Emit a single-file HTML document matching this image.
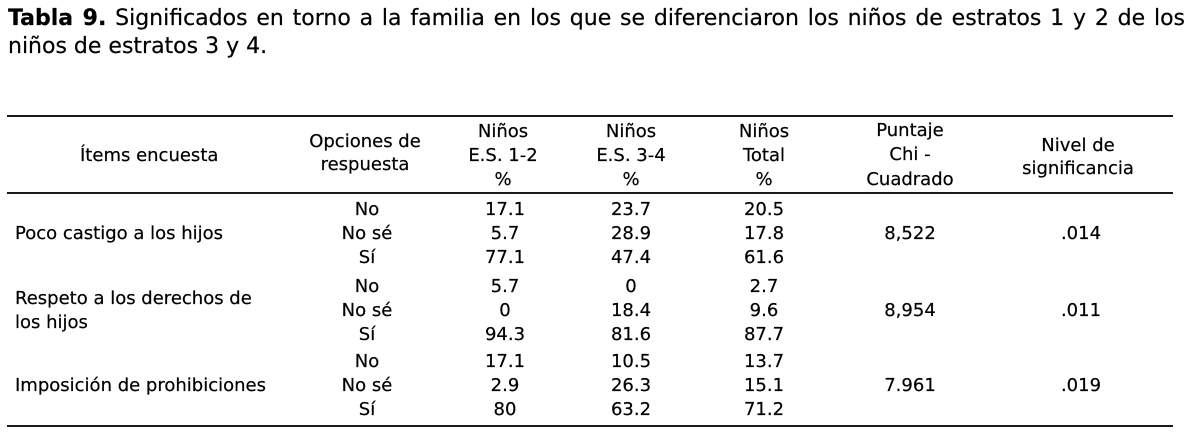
<!DOCTYPE html>
<html>
<head>
<meta charset="utf-8">
<style>
  html, body { margin:0; padding:0; background:#fff; }
  body { width:1194px; height:439px; position:relative; overflow:hidden;
         font-family:"DejaVu Sans","Liberation Sans",sans-serif; color:#000;
         -webkit-text-stroke:0.2px #000; }
  .ttl { position:absolute; left:8px; width:1177px; font-size:22px; line-height:28px; white-space:nowrap; }
  .j { text-align:justify; text-align-last:justify; white-space:normal; }
  .t { position:absolute; font-size:18px; line-height:24px; white-space:nowrap; }
  .c { width:220px; text-align:center; }
  .rule { position:absolute; left:7px; width:1166px; height:2px; background:#1a1a1a; }
</style>
</head>
<body>
  <div class="ttl j" style="top:5px;"><b>Tabla 9.</b> Significados en torno a la familia en los que se diferenciaron los niños de estratos 1 y 2 de los</div>
  <div class="ttl" style="top:33px;">niños de estratos 3 y 4.</div>

  <div class="rule" style="top:115px;"></div>
  <div class="rule" style="top:192px;"></div>
  <div class="rule" style="top:425px;"></div>

  <!-- header -->
  <div class="t" style="left:80px; top:144px;">Ítems encuesta</div>
  <div class="t c" style="left:255px; top:130px;">Opciones de</div>
  <div class="t c" style="left:255px; top:153px;">respuesta</div>

  <div class="t c" style="left:393px; top:120px;">Niños</div>
  <div class="t c" style="left:393px; top:144px;">E.S. 1-2</div>
  <div class="t c" style="left:393px; top:168px;">%</div>

  <div class="t c" style="left:521px; top:120px;">Niños</div>
  <div class="t c" style="left:521px; top:144px;">E.S. 3-4</div>
  <div class="t c" style="left:521px; top:168px;">%</div>

  <div class="t c" style="left:654px; top:120px;">Niños</div>
  <div class="t c" style="left:654px; top:144px;">Total</div>
  <div class="t c" style="left:654px; top:168px;">%</div>

  <div class="t c" style="left:800px; top:119px;">Puntaje</div>
  <div class="t c" style="left:800px; top:143px;">Chi -</div>
  <div class="t c" style="left:800px; top:168px;">Cuadrado</div>

  <div class="t c" style="left:968px; top:134px;">Nivel de</div>
  <div class="t c" style="left:968px; top:157px;">significancia</div>

  <!-- group 1 -->
  <div class="t" style="left:15px; top:222px;">Poco castigo a los hijos</div>
  <div class="t c" style="left:257px; top:198px;">No</div>
  <div class="t c" style="left:257px; top:222px;">No sé</div>
  <div class="t c" style="left:257px; top:246px;">Sí</div>
  <div class="t c" style="left:395px; top:198px;">17.1</div>
  <div class="t c" style="left:395px; top:222px;">5.7</div>
  <div class="t c" style="left:395px; top:246px;">77.1</div>
  <div class="t c" style="left:521px; top:198px;">23.7</div>
  <div class="t c" style="left:521px; top:222px;">28.9</div>
  <div class="t c" style="left:521px; top:246px;">47.4</div>
  <div class="t c" style="left:654px; top:198px;">20.5</div>
  <div class="t c" style="left:654px; top:222px;">17.8</div>
  <div class="t c" style="left:654px; top:246px;">61.6</div>
  <div class="t c" style="left:800px; top:222px;">8,522</div>
  <div class="t c" style="left:971px; top:222px;">.014</div>

  <!-- group 2 -->
  <div class="t" style="left:15px; top:287px;">Respeto a los derechos de</div>
  <div class="t" style="left:15px; top:311px;">los hijos</div>
  <div class="t c" style="left:257px; top:275px;">No</div>
  <div class="t c" style="left:257px; top:299px;">No sé</div>
  <div class="t c" style="left:257px; top:323px;">Sí</div>
  <div class="t c" style="left:395px; top:275px;">5.7</div>
  <div class="t c" style="left:395px; top:299px;">0</div>
  <div class="t c" style="left:395px; top:323px;">94.3</div>
  <div class="t c" style="left:521px; top:275px;">0</div>
  <div class="t c" style="left:521px; top:299px;">18.4</div>
  <div class="t c" style="left:521px; top:323px;">81.6</div>
  <div class="t c" style="left:654px; top:275px;">2.7</div>
  <div class="t c" style="left:654px; top:299px;">9.6</div>
  <div class="t c" style="left:654px; top:323px;">87.7</div>
  <div class="t c" style="left:800px; top:299px;">8,954</div>
  <div class="t c" style="left:971px; top:299px;">.011</div>

  <!-- group 3 -->
  <div class="t" style="left:15px; top:374px;">Imposición de prohibiciones</div>
  <div class="t c" style="left:257px; top:350px;">No</div>
  <div class="t c" style="left:257px; top:374px;">No sé</div>
  <div class="t c" style="left:257px; top:398px;">Sí</div>
  <div class="t c" style="left:395px; top:350px;">17.1</div>
  <div class="t c" style="left:395px; top:374px;">2.9</div>
  <div class="t c" style="left:395px; top:398px;">80</div>
  <div class="t c" style="left:521px; top:350px;">10.5</div>
  <div class="t c" style="left:521px; top:374px;">26.3</div>
  <div class="t c" style="left:521px; top:398px;">63.2</div>
  <div class="t c" style="left:654px; top:350px;">13.7</div>
  <div class="t c" style="left:654px; top:374px;">15.1</div>
  <div class="t c" style="left:654px; top:398px;">71.2</div>
  <div class="t c" style="left:800px; top:374px;">7.961</div>
  <div class="t c" style="left:971px; top:374px;">.019</div>
</body>
</html>
